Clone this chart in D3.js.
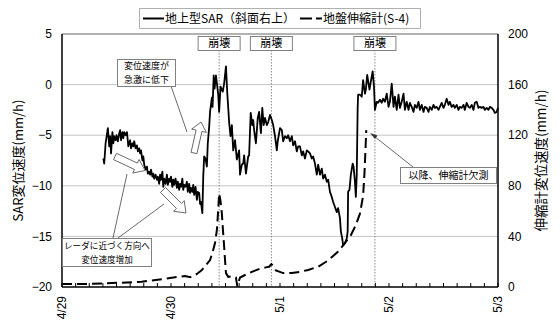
<!DOCTYPE html>
<html>
<head>
<meta charset="utf-8">
<script src="https://cdn.jsdelivr.net/npm/d3@7"></script>
<style>
  body { margin: 0; background: #fff; }
  svg text { font-family: "Liberation Sans", "Noto Sans CJK JP", sans-serif; fill: #000; }
  svg text.jp { font-family: "Noto Sans CJK JP", "Liberation Sans", sans-serif; }
</style>
</head>
<body>
<svg id="chart" width="560" height="326"></svg>
<script>
// Time axis: hours since 4/29 00:00
const dayLabels = ["4/29", "4/30", "5/1", "5/2", "5/3"];
const dayHours = [0, 24, 48, 72, 96];
const leftTicks = [5, 0, -5, -10, -15, -20];
const rightTicks = [200, 160, 120, 80, 40, 0];
const collapseHours = [34.6, 46.1, 68.9];
const collapseLabel = "崩壊";

// Ground-based SAR displacement rate (mm/h): [hour, rate]
const sarSeries = [
[9.1,-7.3],[9.3,-7.8],[9.6,-5.8],[10.1,-4.3],[10.4,-6.1],[10.6,-5.1],[10.8,-6.8],[11.1,-4.7],[11.3,-5.8],[11.5,-5.1],
[11.8,-5.5],[12.0,-5.0],[12.3,-5.6],[12.6,-4.8],[12.8,-4.5],[13.0,-5.5],[13.3,-4.7],[13.5,-5.3],[13.7,-4.7],[14.0,-5.0],
[14.3,-4.7],[14.5,-5.6],[14.6,-6.1],[15.0,-5.5],[15.2,-6.3],[15.5,-5.8],[15.7,-6.1],[15.9,-5.6],[16.2,-6.3],[16.5,-6.0],
[16.7,-6.6],[17.0,-6.3],[17.2,-6.8],[17.4,-6.5],[17.7,-7.5],[17.9,-7.1],[18.1,-7.9],[18.4,-8.4],[18.7,-8.1],[18.9,-8.8],
[19.2,-8.6],[19.4,-8.9],[19.6,-8.4],[19.9,-9.1],[20.1,-8.8],[20.3,-9.3],[20.6,-8.9],[20.9,-9.4],[21.1,-9.1],[21.4,-9.8],
[21.6,-8.9],[21.8,-9.4],[22.1,-8.6],[22.3,-10.1],[22.5,-9.3],[22.8,-9.8],[23.1,-8.9],[23.3,-9.9],[23.6,-9.3],[23.8,-9.6],
[24.0,-9.1],[24.3,-10.1],[24.5,-9.4],[24.7,-9.9],[25.0,-9.3],[25.3,-10.2],[25.5,-9.6],[25.8,-10.4],[26.0,-9.8],[26.2,-10.1],
[26.5,-9.3],[26.7,-10.4],[26.9,-9.9],[27.2,-10.1],[27.5,-9.6],[27.7,-10.6],[28.0,-9.8],[28.2,-10.7],[28.4,-10.2],[28.7,-10.6],
[28.9,-9.9],[29.1,-10.9],[29.4,-10.1],[29.7,-11.4],[29.9,-10.6],[30.2,-10.7],[30.4,-11.8],[30.6,-11.6],[30.9,-12.7],[31.1,-9.1],
[31.3,-7.1],[31.6,-7.3],[31.9,-8.1],[32.1,-5.8],[32.4,-4.2],[32.6,-2.7],[33.0,-1.3],[33.15,-2.2],[33.4,0.9],[33.6,-0.4],
[33.9,0.9],[34.4,-1.0],[34.6,-2.7],[34.9,-0.2],[35.4,-0.7],[35.7,0.1],[36.1,1.8],[36.4,-0.9],[36.8,-3.7],[37.1,-5.1],
[37.4,-4.0],[37.7,-6.5],[38.1,-5.5],[38.5,-7.4],[39.0,-6.5],[39.2,-8.9],[39.6,-7.9],[39.9,-7.8],[40.1,-7.0],[40.5,-8.8],
[40.7,-8.1],[41.0,-7.1],[41.2,-7.0],[41.55,-2.8],[41.9,-4.0],[42.1,-3.5],[42.3,-4.5],[42.7,-5.8],[43.1,-3.3],[43.4,-2.7],
[43.8,-4.8],[44.1,-2.3],[44.4,-4.0],[44.7,-3.3],[45.1,-4.0],[45.4,-3.7],[45.8,-3.0],[46.2,-3.5],[46.5,-4.0],[46.9,-5.1],
[47.3,-6.5],[47.5,-5.6],[48.0,-4.3],[48.4,-4.5],[48.7,-5.6],[49.1,-5.1],[49.5,-5.3],[49.8,-5.0],[50.2,-5.6],[50.6,-5.1],
[50.9,-6.0],[51.3,-5.6],[51.7,-6.6],[52.0,-6.1],[52.4,-6.1],[52.8,-7.0],[53.1,-6.6],[53.5,-7.3],[53.9,-6.5],[54.2,-6.6],
[54.6,-6.8],[55.0,-7.3],[55.3,-7.1],[55.7,-7.8],[56.1,-8.9],[56.4,-7.9],[56.8,-8.9],[57.2,-8.3],[57.5,-9.3],[57.9,-8.9],
[58.3,-9.6],[58.6,-9.4],[59.0,-10.6],[59.4,-11.1],[59.7,-11.6],[60.1,-12.1],[60.5,-12.6],[60.8,-12.2],[61.2,-13.2],[61.4,-14.5],
[61.7,-15.2],[61.9,-15.9],[62.3,-15.7],[62.7,-15.2],[62.9,-14.5],[63.0,-10.6],[63.3,-10.4],[63.6,-8.9],[64.0,-7.8],[64.2,-8.1],
[64.5,-9.6],[64.7,-11.1],[64.9,-8.9],[65.1,-2.3],[65.2,-1.0],[65.6,-1.0],[66.0,-1.2],[66.3,0.45],[66.7,-0.9],[66.9,-0.5],
[67.2,0.95],[67.7,-0.5],[68.0,0.3],[68.4,1.3],[68.7,-0.2],[68.9,-2.5],[69.3,-1.7],[69.6,-1.8],[70.0,-1.5],[70.4,-1.8],
[70.7,-1.4],[71.1,-1.7],[71.5,-0.9],[71.9,-2.2],[72.2,-1.7],[72.6,0.1],[73.0,-2.2],[73.3,-1.2],[73.7,-2.5],[74.1,-1.0],
[74.4,-2.3],[74.8,-1.7],[75.2,-0.9],[75.5,-2.5],[75.9,-1.7],[76.3,-2.5],[76.6,-1.8],[77.0,-2.2],[77.4,-2.7],[77.7,-2.0],
[78.1,-2.3],[78.5,-1.7],[78.8,-2.5],[79.2,-2.0],[79.6,-2.7],[79.9,-2.2],[80.3,-2.3],[80.7,-2.7],[81.0,-2.2],[81.4,-2.5],
[81.8,-2.0],[82.1,-2.3],[82.5,-2.2],[82.9,-2.5],[83.2,-2.2],[83.6,-1.8],[84.0,-2.3],[84.3,-2.0],[84.7,-1.4],[85.1,-2.0],
[85.4,-1.7],[85.8,-2.2],[86.2,-2.0],[86.5,-2.3],[86.9,-2.0],[87.3,-2.5],[87.6,-2.2],[88.0,-2.3],[88.4,-2.0],[88.7,-2.5],
[89.1,-1.8],[89.5,-2.2],[89.8,-2.3],[90.2,-2.0],[90.6,-2.5],[90.9,-1.8],[91.3,-1.7],[91.7,-2.3],[92.0,-2.2],[92.4,-2.3],
[92.8,-2.2],[93.1,-2.5],[93.5,-2.3],[93.9,-2.5],[94.2,-2.2],[94.6,-2.3],[95.0,-2.5],[95.3,-2.8],[95.7,-2.7],[96.0,-2.3]
];

// Extensometer S-4 displacement rate (mm/h): [hour, rate]
const extSeries = [
[0.0,2.4],[5.8,2.4],[13.1,3.4],[17.5,4.2],[22.0,6.1],[24.9,7.7],[27.1,8.7],[28.2,7.7],[29.7,10.3],[30.8,13.4],
[31.5,16.5],[32.6,21.3],[33.2,28],[33.7,35],[34.1,45],[34.4,61],[34.6,74],[34.9,68],[35.2,58],[35.4,47],
[35.7,32],[35.9,21],[36.1,11],[36.6,8],[37.4,8.5],[38.3,7.5],[38.6,0.5],[39.2,7.5],[40.3,9.5],[41.8,12],
[43.6,14.5],[44.9,15.5],[45.6,16],[46.1,18],[46.6,16.5],[47.1,13],[48.7,11],[50.6,11],[52.4,12],[54.2,13.5],
[56.4,16],[58.6,21],[60.8,28],[61.9,33],[63.6,41],[64.7,49],[65.6,58],[66.3,72],[66.6,90],[66.8,107],[67.0,124]
];

const legendItems = ["地上型SAR（斜面右上）", "地盤伸縮計(S-4)"];
const leftTitle = "SAR変位速度(mm/h)";
const rightTitle = "伸縮計変位速度(mm/h)";

const W = 560, H = 326;
const M = { left: 62, right: 498, top: 34, bottom: 287 };

const svg = d3.select("#chart");

const x = d3.scaleLinear().domain([0, 96]).range([M.left, M.right]);
const yL = d3.scaleLinear().domain([-20, 5]).range([M.bottom, M.top]);
const yR = d3.scaleLinear().domain([0, 200]).range([M.bottom, M.top]);

// Horizontal gridlines
svg.append("g").selectAll("line")
  .data(leftTicks.filter(v => v > -20 && v < 5))
  .join("line")
  .attr("x1", M.left).attr("x2", M.right)
  .attr("y1", d => yL(d)).attr("y2", d => yL(d))
  .attr("stroke", "#c4c4c4").attr("stroke-width", 1);

// Plot frame (top edge)
svg.append("line")
  .attr("x1", M.left).attr("x2", M.right).attr("y1", M.top).attr("y2", M.top)
  .attr("stroke", "#666").attr("stroke-width", 1);

// Collapse markers
const cg = svg.append("g");
cg.selectAll("line").data(collapseHours).join("line")
  .attr("x1", d => x(d)).attr("x2", d => x(d))
  .attr("y1", 50).attr("y2", M.bottom)
  .attr("stroke", "#888").attr("stroke-width", 1)
  .attr("stroke-dasharray", "1.5,1.5");

// X axis ticks (every 3 hours, inward)
svg.append("g").selectAll("line")
  .data(d3.range(0, 97, 3))
  .join("line")
  .attr("x1", d => x(d)).attr("x2", d => x(d))
  .attr("y1", M.bottom).attr("y2", M.bottom - 4)
  .attr("stroke", "#000").attr("stroke-width", 1);

// Series lines
const sarLine = d3.line().x(d => x(d[0])).y(d => yL(d[1]));
const extLine = d3.line().x(d => x(d[0])).y(d => yR(d[1]));

svg.append("path")
  .datum(extSeries)
  .attr("d", extLine)
  .attr("fill", "none").attr("stroke", "#000").attr("stroke-width", 2)
  .attr("stroke-dasharray", "10,5");

svg.append("path")
  .datum(sarSeries)
  .attr("d", sarLine)
  .attr("fill", "none").attr("stroke", "#000").attr("stroke-width", 1.8)
  .attr("stroke-linejoin", "round");

// Axes lines
svg.append("line").attr("x1", M.left).attr("x2", M.left).attr("y1", M.top).attr("y2", M.bottom)
  .attr("stroke", "#000").attr("stroke-width", 1.5);
svg.append("line").attr("x1", M.right).attr("x2", M.right).attr("y1", M.top).attr("y2", M.bottom)
  .attr("stroke", "#000").attr("stroke-width", 1.5);
svg.append("line").attr("x1", M.left).attr("x2", M.right).attr("y1", M.bottom).attr("y2", M.bottom)
  .attr("stroke", "#000").attr("stroke-width", 1.5);

// Tick labels
svg.append("g").selectAll("text").data(leftTicks).join("text")
  .attr("x", 52).attr("y", d => yL(d)).attr("dy", "0.35em")
  .attr("text-anchor", "end").attr("font-size", 12)
  .text(d => d < 0 ? "\u2212" + Math.abs(d) : d);

svg.append("g").selectAll("text").data(rightTicks).join("text")
  .attr("x", 508).attr("y", d => yR(d)).attr("dy", "0.35em")
  .attr("text-anchor", "start").attr("font-size", 12)
  .text(d => d);

svg.append("g").selectAll("text").data(dayHours).join("text")
  .attr("transform", d => `translate(${x(d)},296) rotate(-90)`)
  .attr("dy", "0.35em").attr("text-anchor", "end").attr("font-size", 12)
  .text((d, i) => dayLabels[i]);

// Axis titles
svg.append("text").attr("class", "jp")
  .attr("transform", `translate(18,${(M.top + M.bottom) / 2}) rotate(-90)`)
  .attr("text-anchor", "middle").attr("dy", "0.35em").attr("font-size", 13)
  .text(leftTitle);
svg.append("text").attr("class", "jp")
  .attr("transform", `translate(541,${(M.top + M.bottom) / 2}) rotate(-90)`)
  .attr("text-anchor", "middle").attr("dy", "0.35em").attr("font-size", 13.5)
  .text(rightTitle);

// Collapse label boxes
const cb = svg.append("g").selectAll("g").data(collapseHours).join("g")
  .attr("transform", d => `translate(${x(d)},43.5)`);
cb.append("rect").attr("x", -21).attr("y", -7).attr("width", 42).attr("height", 14)
  .attr("fill", "#fff").attr("stroke", "#808080").attr("stroke-width", 1);
cb.append("text").attr("class", "jp").attr("text-anchor", "middle").attr("dy", "0.36em")
  .attr("font-size", 11).text(collapseLabel);

// Legend
const lg = svg.append("g");
lg.append("rect").attr("x", 139.5).attr("y", 8.5).attr("width", 281).attr("height", 20)
  .attr("fill", "#fff").attr("stroke", "#b0b0b0").attr("stroke-width", 1);
lg.append("line").attr("x1", 143).attr("x2", 164).attr("y1", 18.5).attr("y2", 18.5)
  .attr("stroke", "#000").attr("stroke-width", 2);
lg.append("text").attr("class", "jp").attr("x", 165).attr("y", 18.5).attr("dy", "0.36em")
  .attr("font-size", 12).text(legendItems[0]);
lg.append("line").attr("x1", 300).attr("x2", 322).attr("y1", 18.5).attr("y2", 18.5)
  .attr("stroke", "#000").attr("stroke-width", 2).attr("stroke-dasharray", "12,4");
lg.append("text").attr("class", "jp").attr("x", 323).attr("y", 18.5).attr("dy", "0.36em")
  .attr("font-size", 12).text(legendItems[1]);

// Annotations
const ann = svg.append("g");

function blockArrow(t, h, sw, hw, hl) {
  const dx = h[0] - t[0], dy = h[1] - t[1];
  const len = Math.hypot(dx, dy);
  const ux = dx / len, uy = dy / len, nx = -uy, ny = ux;
  const nkx = h[0] - ux * hl, nky = h[1] - uy * hl;
  const pts = [
    [t[0] + nx * sw, t[1] + ny * sw],
    [nkx + nx * sw, nky + ny * sw],
    [nkx + nx * hw, nky + ny * hw],
    h,
    [nkx - nx * hw, nky - ny * hw],
    [nkx - nx * sw, nky - ny * sw],
    [t[0] - nx * sw, t[1] - ny * sw]
  ];
  ann.append("polygon").attr("points", pts.map(p => p.join(",")).join(" "))
    .attr("fill", "#fff").attr("stroke", "#6a6a6a").attr("stroke-width", 1);
}

function leader(a, b) {
  ann.append("line").attr("x1", a[0]).attr("y1", a[1]).attr("x2", b[0]).attr("y2", b[1])
    .attr("stroke", "#444").attr("stroke-width", 0.8);
}

function noteBox(x0, y0, w, h, lines, fs) {
  ann.append("rect").attr("x", x0).attr("y", y0).attr("width", w).attr("height", h)
    .attr("fill", "#fff").attr("stroke", "#808080").attr("stroke-width", 1);
  const lh = h / lines.length;
  lines.forEach((s, i) => {
    ann.append("text").attr("class", "jp").attr("x", x0 + w / 2).attr("y", y0 + lh * (i + 0.5))
      .attr("dy", "0.36em").attr("text-anchor", "middle").attr("font-size", fs).text(s);
  });
}

// sudden drop note
leader([171, 86], [187, 132]);
noteBox(117.5, 59.5, 58, 27, ["変位速度が", "急激に低下"], 9);
blockArrow([194, 153], [201, 122], 3, 7.5, 9);

// approaching-radar note
leader([113, 238], [127, 174]);
leader([118, 238], [164, 204]);
blockArrow([115, 156.5], [145, 170.5], 3.5, 7.5, 10);
blockArrow([163, 190], [186, 213], 3.5, 7.5, 10);
noteBox(62.5, 238.5, 89, 28, ["レーダに近づく方向へ", "変位速度増加"], 8.6);

// missing extensometer data note
leader([413, 167], [372, 134.5]);
ann.append("polygon")
  .attr("points", "370,133 377.5,135.5 375,139")
  .attr("fill", "#333");
noteBox(400.5, 167.5, 96, 16, ["以降、伸縮計欠測"], 10);
</script>
</body>
</html>
